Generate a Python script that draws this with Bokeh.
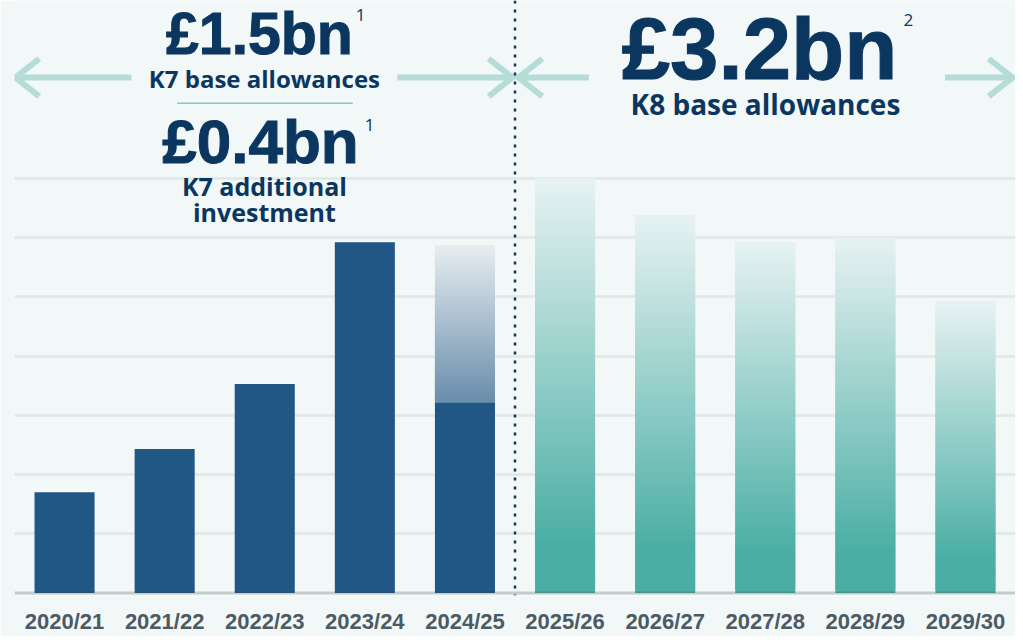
import numpy as np
from bokeh.plotting import figure
from bokeh.models import FactorRange, Range1d, Span, Label, FixedTicker, Grid
from bokeh.embed import file_html
from bokeh.resources import INLINE

# ---------------- data ----------------
years = ["2020/21", "2021/22", "2022/23", "2023/24", "2024/25",
         "2025/26", "2026/27", "2027/28", "2028/29", "2029/30"]
k7_years = years[:5]
k7_base = [170, 243, 353, 592, 322]          # solid navy bars
k7_additional = [0, 0, 0, 0, 265]             # faded navy on top of 2024/25
k8_years = years[5:]
k8_base = [700, 638, 592, 600, 493]           # teal gradient bars
grid_ticks = [100, 200, 300, 400, 500, 600, 700]

k7_base_total = "£1.5bn"
k7_base_label = "K7 base allowances"
k7_add_total = "£0.4bn"
k7_add_label = ["K7 additional", "investment"]
k8_total = "£3.2bn"
k8_label = "K8 base allowances"

# ---------------- style / layout ----------------
NAVY = "#215784"
TITLE = "#0b3660"
TEAL = (74, 174, 164)
NAVY_RGB = (33, 87, 132)
BG = "#f2f7f7"
BG_RGB = (243, 247, 248)
ARROW = "#b6dcd8"
BIG_FONT = "Liberation Sans"
FONT = "Open Sans"

W, H = 1015, 636
SX, SY = W / 1023, H / 644          # reference px -> figure px
FRAME_LEFT = 14                     # figure px
FRAME_BOTTOM = 595                  # figure px
BASE = 600 * SY                     # figure px of value 0
PPU = 0.6 * SY                      # px per value unit
UNIT_X = (W - FRAME_LEFT) / len(years)


def X(px_ref):
    return (px_ref * SX - FRAME_LEFT) / UNIT_X


def Y(py_ref):
    return (BASE - py_ref * SY) / PPU


def blend(rgb, a):
    r = [int(round(b * (1 - a) + c * a)) for b, c in zip(BG_RGB, rgb)]
    return "#%02x%02x%02x" % tuple(r)


p = figure(
    x_range=FactorRange(*years),
    y_range=Range1d((BASE - FRAME_BOTTOM) / PPU, BASE / PPU),
    width=W, height=H,
    output_backend="svg", toolbar_location=None,
    y_axis_location=None,
    min_border_left=FRAME_LEFT, min_border_right=0,
    min_border_top=0, min_border_bottom=H - FRAME_BOTTOM,
)
p.background_fill_color = BG
p.border_fill_color = BG
p.outline_line_color = None
p.grid.visible = False

grid = Grid(dimension=1, ticker=FixedTicker(ticks=grid_ticks),
            grid_line_color="#e1e7e7", grid_line_width=2.5)
p.add_layout(grid)

# ---- K7 solid bars
p.vbar(x=k7_years, top=k7_base, width=0.6, fill_color=NAVY, line_color=None)

N = 90
OV = 0.8   # slice overlap (in slice heights) to hide seams

# ---- K7 additional (faded gradient on top of 2024/25)
xs, bots, tops, cols = [], [], [], []
for yr, b, extra in zip(k7_years, k7_base, k7_additional):
    if extra <= 0:
        continue
    for j in range(N):
        f = (j + 0.5) / N                  # 0 at bottom -> 1 at top of segment
        xs.append(yr)
        bots.append(b + extra * j / N)
        tops.append(min(b + extra, b + extra * (j + 1 + OV) / N))
        cols.append(blend(NAVY_RGB, 0.66 - 0.60 * f))
p.vbar(x=xs, bottom=bots, top=tops, width=0.6, fill_color=cols, line_color=None)

# ---- K8 teal gradient bars
xs, bots, tops, cols = [], [], [], []
for yr, v in zip(k8_years, k8_base):
    for j in range(N):
        from_top = 1 - (j + 0.5) / N
        xs.append(yr)
        bots.append(v * j / N)
        tops.append(min(v, v * (j + 1 + OV) / N))
        cols.append(blend(TEAL, min(1.0, 0.07 + 1.05 * from_top)))
p.vbar(x=xs, bottom=bots, top=tops, width=0.6, fill_color=cols, line_color=None)

# ---- baseline
p.add_layout(Span(location=0, dimension="width", line_color="#3a4a44",
                  line_alpha=0.25, line_width=3))

# ---- dotted divider between K7 and K8
p.add_layout(Span(location=len(k7_years), dimension="height",
                  line_color="#0d3660", line_width=2.5, line_dash="3 6"))

# ---- arrows
arrow_xs, arrow_ys = [], []


def arrow(x_tail, x_tip, y):
    d = 24 if x_tip > x_tail else -24
    arrow_xs.append([X(x_tail), X(x_tip)])
    arrow_ys.append([Y(y), Y(y)])
    arrow_xs.append([X(x_tip - d), X(x_tip), X(x_tip - d)])
    arrow_ys.append([Y(y - 19), Y(y), Y(y + 19)])


arrow(132, 15, 78)
arrow(400, 516, 78)
arrow(593, 522, 78)
arrow(952, 1020, 78)
p.multi_line(xs=arrow_xs, ys=arrow_ys, line_color=ARROW, line_width=6,
             line_join="miter", line_cap="butt")

# thin rule between K7 base and additional
p.line(x=[X(178), X(355)], y=[Y(104), Y(104)], line_color="#7fcbc3", line_width=1.5)


def label(text, cx, base, size, style="bold", align="center", heavy=False, font=FONT):
    kw = {}
    if heavy:
        kw["text_outline_color"] = TITLE
    p.add_layout(Label(x=X(cx), y=Y(base - 0.36 * size), text=text,
                       text_align=align, text_baseline="alphabetic",
                       text_font=font, text_font_size=f"{size}px",
                       text_font_style=style, text_color=TITLE, **kw))


label(k7_base_total, 261, 55, 59, heavy=True, font=BIG_FONT)
label("1", 358, 21, 17, style="normal", align="left")
label(k7_base_label, 266, 88, 24)
label(k7_add_total, 262, 165, 62, heavy=True, font=BIG_FONT)
label("1", 367, 132, 17, style="normal", align="left")
label(k7_add_label[0], 266, 197, 25)
label(k7_add_label[1], 266, 223, 25)
label(k8_total, 765, 80, 87, heavy=True, font=BIG_FONT)
label("2", 910, 26, 17, style="normal", align="left")
label(k8_label, 771, 115, 28)

# ---- x axis (category labels)
ax = p.xaxis[0]
ax.axis_line_color = None
ax.major_tick_line_color = None
ax.minor_tick_line_color = None
ax.major_tick_out = 0
ax.major_tick_in = 0
ax.major_label_text_font = BIG_FONT
ax.major_label_text_font_style = "bold"
ax.major_label_text_font_size = "22px"
ax.major_label_text_color = "#4b5a63"
ax.major_label_standoff = 13

open("out.html", "w").write(file_html(p, INLINE))
